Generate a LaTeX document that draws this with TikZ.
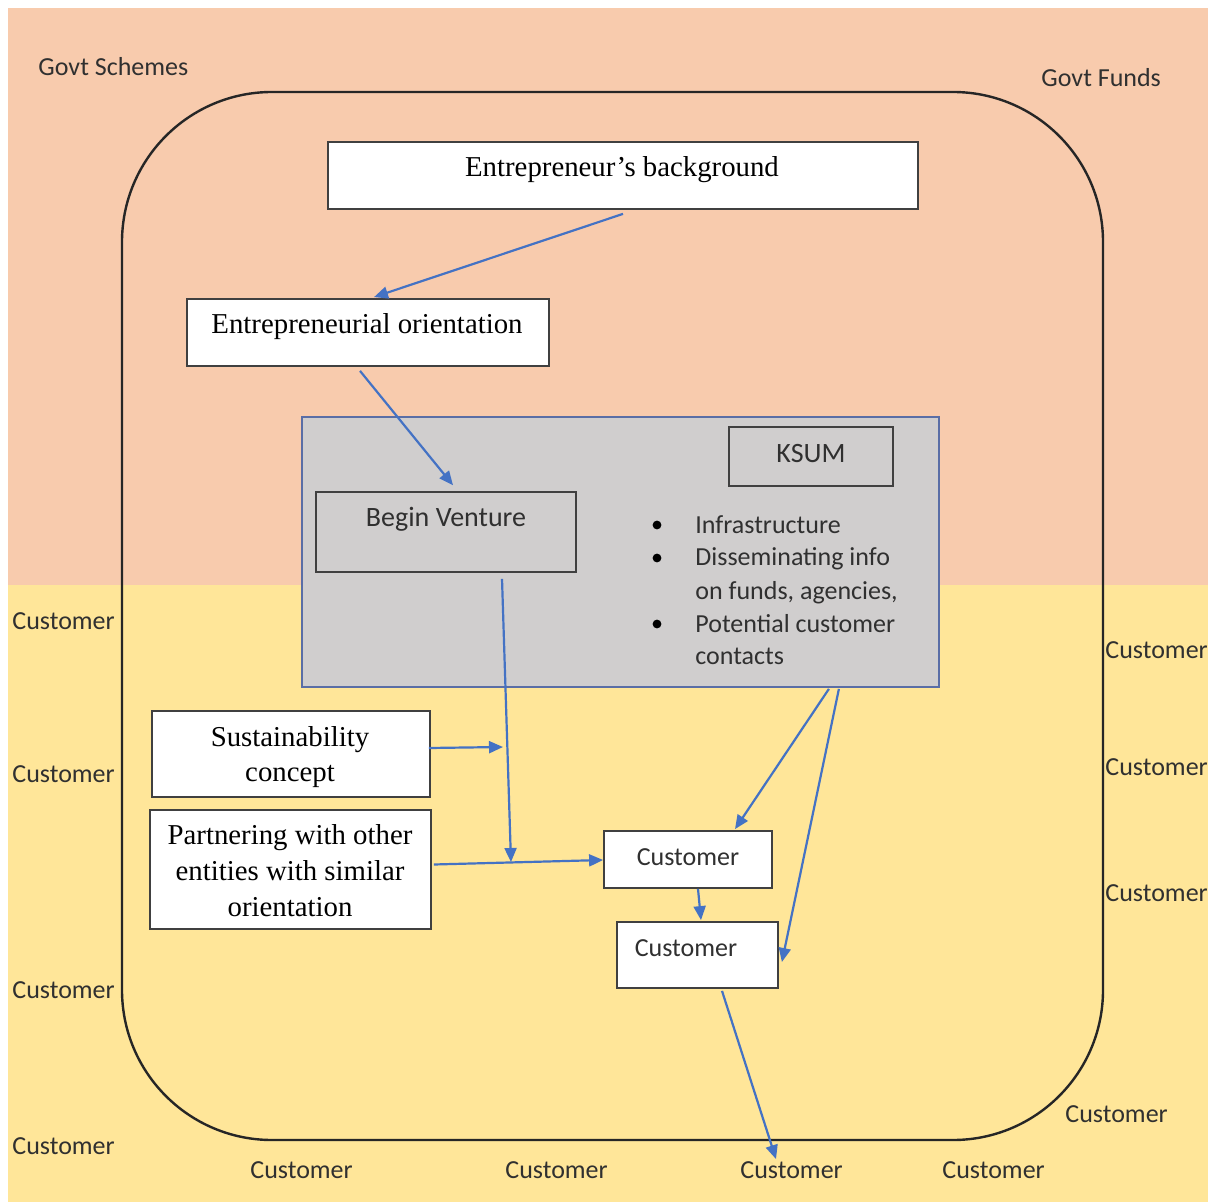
\documentclass[tikz,border=0pt]{standalone}
\usepackage{fontspec}
\setmainfont{Liberation Serif}
\newfontfamily\calfont{Carlito}
\usetikzlibrary{arrows.meta,calc}
\definecolor{peach}{HTML}{F8CBAD}
\definecolor{gold}{HTML}{FFE699}
\definecolor{ksgray}{HTML}{D0CECE}
\definecolor{ksline}{HTML}{5A6EA6}
\definecolor{boxline}{HTML}{404040}
\definecolor{arr}{HTML}{4472C4}
\definecolor{txt}{HTML}{303030}
\begin{document}
\begin{tikzpicture}[x=0.5pt,y=-0.5pt,
  box/.style={draw=boxline,line width=0.9pt,fill=white,inner sep=0pt},
  serif/.style={font=\fontsize{14.4pt}{17.5pt}\selectfont,inner sep=0pt,anchor=base,text=black},
  sans/.style={font=\calfont\fontsize{13pt}{16pt}\selectfont,inner sep=0pt,text=txt},
  sansbig/.style={font=\calfont\fontsize{14pt}{17pt}\selectfont,inner sep=0pt,text=txt,anchor=base},
  dot/.style={circle,fill=black,inner sep=0pt,minimum size=4.4pt},
  conn/.style={draw=arr,line width=1.1pt,-{Triangle[length=7pt,width=6pt]}}]
\useasboundingbox (0,0) rectangle (1208,1202);
% background bands
\fill[peach] (8,8) rectangle (1208,585);
\fill[gold] (8,585) rectangle (1208,1202);
% big rounded frame
\draw[line width=1.2pt,draw=black!85,rounded corners=75pt] (122,92) rectangle (1103,1140);
% outer labels
\node[sans,anchor=west] (gs) at (38,67) {Govt Schemes};
\node[sans,anchor=west] (gf) at (1041,78) {Govt Funds};
\node[sans,anchor=west] (l1) at (12,621) {Customer};
\node[sans,anchor=west] (l2) at (12,774) {Customer};
\node[sans,anchor=west] (l3) at (12,990) {Customer};
\node[sans,anchor=west] (l4) at (12,1146) {Customer};
\node[sans,anchor=west] (r1) at (1105,650) {Customer};
\node[sans,anchor=west] (r2) at (1105,767) {Customer};
\node[sans,anchor=west] (r3) at (1105,893) {Customer};
\node[sans,anchor=west] (r4) at (1065,1114) {Customer};
\node[sans,anchor=west] (b1) at (250,1170) {Customer};
\node[sans,anchor=west] (b2) at (505,1170) {Customer};
\node[sans,anchor=west] (b3) at (740,1170) {Customer};
\node[sans,anchor=west] (b4) at (942,1170) {Customer};
% boxes
\node[box,minimum width=295pt,minimum height=33.5pt] (eb) at (623,175.5) {};
\node[serif] (ebt) at (622,177) {Entrepreneur’s background};
\node[box,minimum width=181pt,minimum height=33.5pt] (eo) at (368,332.5) {};
\node[serif] (eot) at (367,334) {Entrepreneurial orientation};
\node[draw=ksline,fill=ksgray,line width=0.9pt,inner sep=0pt,minimum width=318.5pt,minimum height=135pt] (kb) at (620.5,552) {};
\node[draw=boxline,fill=ksgray,line width=0.8pt,inner sep=0pt,minimum width=82pt,minimum height=29.5pt] (ks) at (811,456.5) {};
\node[sansbig] (kst) at (811,463) {KSUM};
\node[draw=boxline,line width=0.8pt,inner sep=0pt,minimum width=130pt,minimum height=40pt] (bv) at (446,532) {};
\node[sansbig] (bvt) at (446,527) {Begin Venture};
% bullets
\node[dot] (d1) at (657,525) {};
\node[dot] (d2) at (657,558) {};
\node[dot] (d3) at (657,624) {};
\node[sans,anchor=base west] (k1) at (695,533) {Infrastructure};
\node[sans,anchor=base west] (k2) at (695,566) {Disseminating info};
\node[sans,anchor=base west] (k3) at (695,599) {on funds, agencies,};
\node[sans,anchor=base west] (k4) at (695,632) {Potential customer};
\node[sans,anchor=base west] (k5) at (695,664) {contacts};
% left boxes
\node[box,minimum width=139pt,minimum height=43pt] (sus) at (291,754) {};
\node[serif] (sus1) at (290,746) {Sustainability};
\node[serif] (sus2) at (290,781) {concept};
\node[box,minimum width=140.5pt,minimum height=59.5pt] (part) at (290.5,869.5) {};
\node[serif] (part1) at (290,844) {Partnering with other};
\node[serif] (part2) at (290,880) {entities with similar};
\node[serif] (part3) at (290,916) {orientation};
% customer boxes
\node[box,minimum width=84pt,minimum height=28.5pt] (c1) at (688,859.5) {};
\node[sansbig,font=\calfont\fontsize{13pt}{16pt}\selectfont] (c1t) at (688,865) {Customer};
\node[box,minimum width=80.5pt,minimum height=33pt] (c2) at (697.5,955) {};
\node[sansbig,font=\calfont\fontsize{13pt}{16pt}\selectfont] (c2t) at (686,956) {Customer};
% junction coordinates
\coordinate (j) at (511,862);
\coordinate (sj) at (503,747);
% connectors
\draw[conn] ($(eb.south)+(0,4)$) -- ($(eo.north)+(6,-1)$);
\draw[conn] ($(eo.south)+(-8,4)$) -- ($(bv.north)+(7,-6)$);
\draw[conn] ($(bv.south)+(56,6)$) -- (j);
\draw[conn] ($(sus.east)+(-2,-6)$) -- (sj);
\draw[conn] ($(part.east)+(2,-5)$) -- ($(c1.west)+(0,0.5)$);
\draw[conn] ($(kb.south east)+(-111,1)$) -- ($(c1.north)+(47,-1)$);
\draw[conn] ($(kb.south east)+(-101,1)$) -- ($(c2.east)+(3,7)$);
\draw[conn] ($(c1.south)+(10,0)$) -- ($(c2.north)+(3.5,-1)$);
\draw[conn] ($(c2.south)+(24.5,2)$) -- ($(b3.north west)+(36,-2)$);
\end{tikzpicture}
\end{document}
